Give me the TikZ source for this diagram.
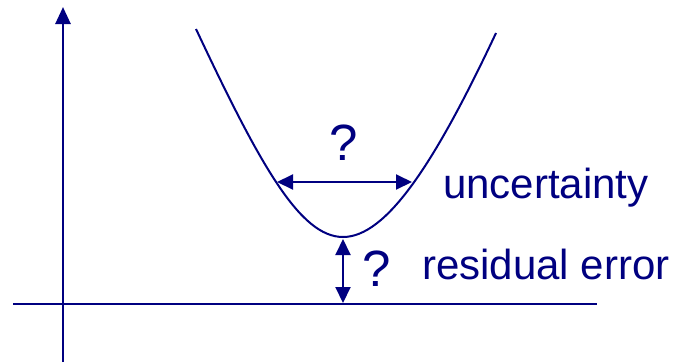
\documentclass[tikz,border=0pt]{standalone}
\usepackage{fontspec}
\setmainfont{Liberation Sans}
\usepackage{xcolor}
\usepackage{tikz}
\usetikzlibrary{positioning, arrows.meta, calc}
\definecolor{pgnavy}{HTML}{000080}
\tikzset{
  axisline/.style={draw=pgnavy, line width=2.6pt},
  curveline/.style={draw=pgnavy, line width=2pt},
  twoway/.style={draw=pgnavy, line width=2pt, {Triangle[length=16pt,width=15pt]}-{Triangle[length=16pt,width=15pt]}},
  lbl/.style={text=pgnavy, inner sep=0pt, anchor=base west, font=\fontsize{42pt}{48pt}\selectfont},
  qmark/.style={text=pgnavy, inner sep=0pt, anchor=base, font=\fontsize{51pt}{58pt}\selectfont}
}

\begin{document}
\begin{tikzpicture}[x=1pt, y=-1pt]
  \useasboundingbox (0,0) rectangle (675,362);
  % axes
  \coordinate (yfoot) at (63,362);
  \coordinate (ytop) at (63,7);
  \coordinate (xleft) at (13,304);
  \coordinate (xright) at (597,304);
  \draw[axisline, -{Triangle[length=17pt,width=15pt]}] (yfoot) -- (ytop);
  \draw[axisline] (xleft) -- (xright);
  % the well
  \coordinate (wl) at (196,29);
  \coordinate (vtx) at (343,237);
  \coordinate (wr) at (496,33);
  \draw[curveline] (wl) .. controls (260,165) and (300,237) .. (vtx)
                        .. controls (386,237) and (434,165) .. (wr);
  % uncertainty width
  \coordinate (ual) at (277,182);
  \coordinate (uar) at (412,182);
  \draw[twoway] (ual) -- (uar);
  \node[qmark] (q1) at (344,160) {?};
  \node[lbl] (unc) at (443,198) {uncertainty};
  % residual error gap
  \coordinate (rtop) at (343,239);
  \coordinate (rbot) at (343,303);
  \draw[twoway] (rtop) -- (rbot);
  \node[qmark] (q2) at (377,286) {?};
  \node[lbl] (res) at (422,279) {residual error};
\end{tikzpicture}
\end{document}
